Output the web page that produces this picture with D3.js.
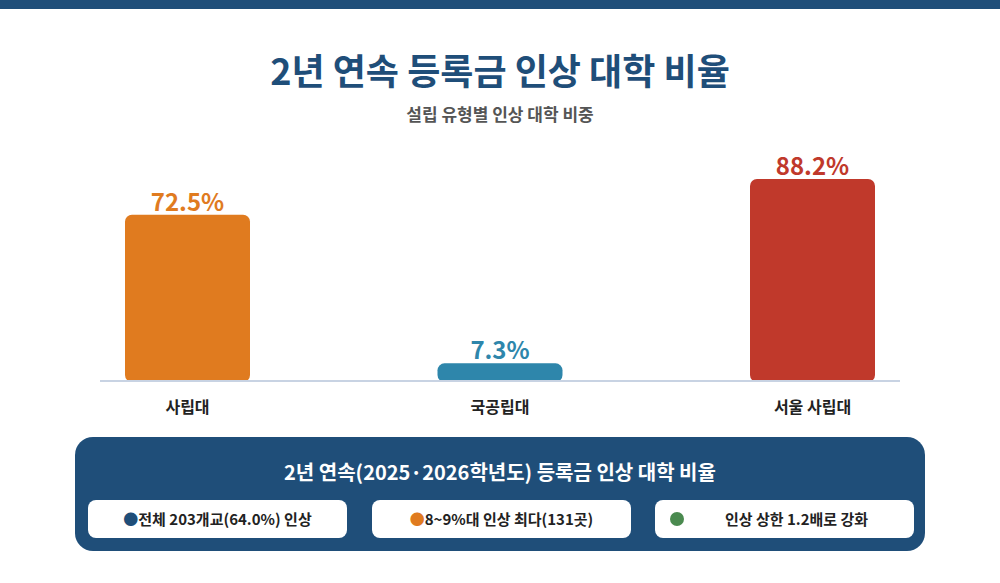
<!DOCTYPE html>
<html><head><meta charset="utf-8">
<script src="https://cdn.jsdelivr.net/npm/d3@7"></script>
<style>body{margin:0;background:#fff}svg{display:block;font-family:"Noto Sans CJK KR","Noto Sans",sans-serif}</style>
</head><body><svg id="chart"></svg>
<script>
const categories = ['사립대', '국공립대', '서울 사립대']
const values = [72.5, 7.3, 88.2]
const barColors = ['#e07b1f', '#2e86ab', '#c0392b']
const notes = ['●전체 203개교(64.0%) 인상', '●8~9%대 인상 최다(131곳)', '인상 상한 1.2배로 강화']
const noteDots = ['#1f4e79', '#e07b1f', '#4a8a4f']

const W = 1000, H = 583, navy = '#1f4e79'
const svg = d3.select('#chart').attr('width', W).attr('height', H)

svg.append('rect').attr('width', W).attr('height', 9).attr('fill', navy)
svg.append('text').attr('x', W / 2).attr('y', 85).attr('text-anchor', 'middle')
  .attr('font-size', 36).attr('font-weight', 700).attr('fill', navy).text('2년 연속 등록금 인상 대학 비율')
svg.append('text').attr('x', W / 2).attr('y', 121).attr('text-anchor', 'middle')
  .attr('font-size', 17).attr('font-weight', 700).attr('fill', '#555').text('설립 유형별 인상 대학 비중')

const x = d3.scaleBand().domain(categories).range([100, 900]).paddingInner(0.6).paddingOuter(0.08)
const y = d3.scaleLinear().domain([0, 100]).range([380, 152])

// 막대
svg.selectAll('.bar').data(values).enter().append('rect')
  .attr('x', (d, i) => x(categories[i])).attr('y', d => y(d))
  .attr('width', x.bandwidth()).attr('height', d => y(0) - y(d) + 2)
  .attr('rx', 7).attr('fill', (d, i) => barColors[i])

svg.append('line').attr('x1', 100).attr('x2', 900).attr('y1', y(0) + 1).attr('y2', y(0) + 1)
  .attr('stroke', '#c8d3e3').attr('stroke-width', 2)

svg.selectAll('.val').data(values).enter().append('text')
  .attr('x', (d, i) => x(categories[i]) + x.bandwidth() / 2).attr('y', d => y(d) - 4)
  .attr('text-anchor', 'middle').attr('font-size', 24).attr('font-weight', 700)
  .attr('fill', (d, i) => barColors[i]).text(d => d + '%')

svg.selectAll('.cat').data(categories).enter().append('text')
  .attr('x', d => x(d) + x.bandwidth() / 2).attr('y', 413)
  .attr('text-anchor', 'middle').attr('font-size', 16).attr('font-weight', 700)
  .attr('fill', '#222').text(d => d)

// 하단 패널
svg.append('rect').attr('x', 75).attr('y', 437).attr('width', 850).attr('height', 114)
  .attr('rx', 18).attr('fill', navy)
svg.append('text').attr('x', W / 2).attr('y', 480).attr('text-anchor', 'middle')
  .attr('font-size', 20).attr('font-weight', 700).attr('fill', '#fff')
  .text('2년 연속(2025·2026학년도) 등록금 인상 대학 비율')

const pillX = [88, 372, 655], pillW = 259
notes.forEach((t, i) => {
  const g = svg.append('g').attr('transform', `translate(${pillX[i]},500)`)
  g.append('rect').attr('width', pillW).attr('height', 38).attr('rx', 8).attr('fill', '#fff')
  if (i < 2) {
    g.append('text').attr('x', pillW / 2).attr('y', 25).attr('text-anchor', 'middle')
      .attr('font-size', 15).attr('font-weight', 700).attr('fill', '#222')
      .call(s => {
        s.append('tspan').attr('fill', noteDots[i]).text('●')
        s.append('tspan').text(t.slice(1))
      })
  } else {
    g.append('circle').attr('cx', 22).attr('cy', 19).attr('r', 7).attr('fill', noteDots[i])
    g.append('text').attr('x', pillW / 2 + 12).attr('y', 25).attr('text-anchor', 'middle')
      .attr('font-size', 15).attr('font-weight', 700).attr('fill', '#222').text(t)
  }
})
</script></body></html>
